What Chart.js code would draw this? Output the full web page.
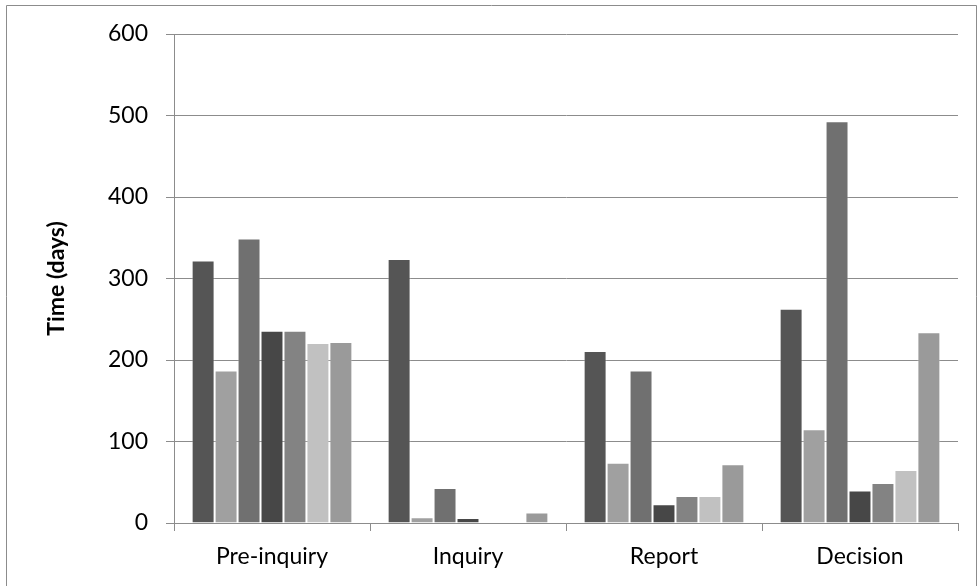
<!DOCTYPE html>
<html>
<head>
<meta charset="utf-8">
<script src="https://cdn.jsdelivr.net/npm/chart.js@4/dist/chart.umd.min.js"></script>
<style>
  html, body { margin: 0; padding: 0; background: #fff; }
  #wrap { width: 978px; height: 586px; position: relative; }
</style>
</head>
<body>
<div id="wrap"><canvas id="chart1"></canvas></div>
<script>
// Categories and series
var categories = ['Pre-inquiry', 'Inquiry', 'Report', 'Decision'];
var serie1 = [322, 324, 211, 263];
var serie2 = [187, 7, 74, 115];
var serie3 = [349, 43, 187, 493];
var serie4 = [236, 6, 23, 40];
var serie5 = [236, 0, 33, 49];
var serie6 = [221, 0, 33, 65];
var serie7 = [222, 13, 72, 234];
var yTicks = [0, 100, 200, 300, 400, 500, 600];

var series = [serie1, serie2, serie3, serie4, serie5, serie6, serie7];
var grises = ['#555555', '#a0a0a0', '#707070', '#474747', '#838383', '#c1c1c1', '#9a9a9a'];

var gridColor = '#8c8c8c';
var fuente = 'Lato, "Open Sans", sans-serif';

// Outer frame of the chart
var marco = {
  id: 'marco',
  afterDraw: function(chart) {
    var c = chart.ctx;
    c.save();
    c.strokeStyle = '#8c8c8c';
    c.lineWidth = 1;
    c.beginPath();
    c.moveTo(6.5, 600);
    c.lineTo(6.5, 5.5);
    c.lineTo(976.5, 5.5);
    c.lineTo(976.5, 600);
    c.stroke();
    c.restore();
  }
};

var ctx1 = document.getElementById('chart1').getContext('2d');
var chart1 = new Chart(ctx1, {
  type: 'bar',
  data: {
    labels: categories,
    datasets: series.map(function(d, i) {
      return {
        label: 'Serie ' + (i + 1),
        data: d,
        backgroundColor: grises[i],
        borderColor: 'rgba(255, 255, 255, 0.35)',
        borderWidth: 1,
        categoryPercentage: 0.82,
        barPercentage: 1.0
      };
    })
  },
  options: {
    responsive: true,
    maintainAspectRatio: false,
    animation: false,
    layout: { padding: { left: 0, top: 34, right: 20, bottom: 0 } },
    plugins: {
      legend: { display: false },
      tooltip: { enabled: false }
    },
    scales: {
      x: {
        grid: {
          display: true,
          drawOnChartArea: false,
          drawTicks: true,
          tickLength: 8,
          color: gridColor
        },
        border: { color: gridColor, width: 1 },
        ticks: {
          color: '#000',
          font: { family: fuente, size: 23 },
          padding: 12,
          maxRotation: 0
        },
        afterFit: function(scale) { scale.height = 63; }
      },
      y: {
        min: 0,
        max: 600,
        afterBuildTicks: function(scale) {
          scale.ticks = yTicks.map(function(v) { return { value: v }; });
        },
        grid: {
          color: gridColor,
          tickLength: 8
        },
        border: { color: gridColor, width: 1 },
        ticks: {
          color: '#000',
          font: { family: fuente, size: 23 },
          padding: 18
        },
        title: {
          display: true,
          text: 'Time (days)',
          color: '#000',
          font: { family: fuente, size: 23, weight: 'bold' },
          padding: { top: 43, bottom: 0 }
        },
        afterFit: function(scale) { scale.width = 174; }
      }
    }
  },
  plugins: [marco]
});
</script>
</body>
</html>
